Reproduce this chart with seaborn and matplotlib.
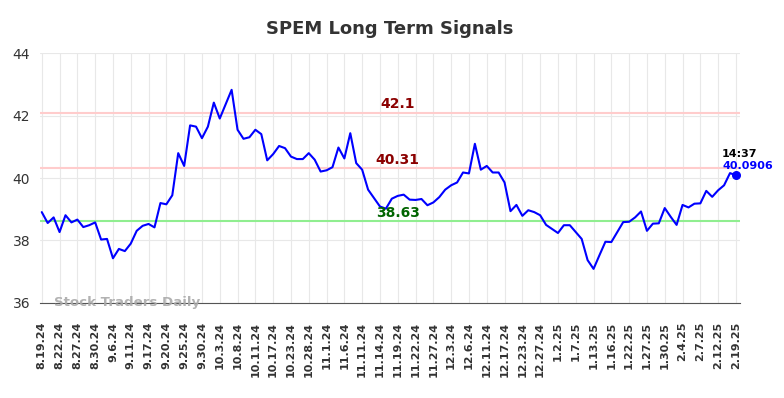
import pandas as pd
import numpy as np
import matplotlib
matplotlib.use("Agg")
import matplotlib.pyplot as plt
import seaborn as sns

# Closing prices, one per plotted session
prices = [
    38.91, 38.56, 38.74, 38.27, 38.81, 38.58, 38.67, 38.43, 38.49, 38.58,
    38.03, 38.05, 37.43, 37.73, 37.66, 37.90, 38.31, 38.47, 38.53, 38.42,
    39.20, 39.16, 39.45, 40.80, 40.39, 41.69, 41.65, 41.28, 41.65, 42.42,
    41.91, 42.37, 42.83, 41.55, 41.26, 41.31, 41.55, 41.41, 40.57, 40.77,
    41.03, 40.96, 40.69, 40.61, 40.61, 40.80, 40.59, 40.21, 40.25, 40.35,
    40.98, 40.63, 41.44, 40.48, 40.27, 39.63, 39.36, 39.09, 39.02, 39.34,
    39.43, 39.47, 39.31, 39.30, 39.33, 39.13, 39.22, 39.39, 39.63, 39.77,
    39.86, 40.18, 40.15, 41.10, 40.27, 40.39, 40.18, 40.18, 39.86, 38.94,
    39.14, 38.79, 38.97, 38.91, 38.81, 38.50, 38.37, 38.24, 38.49, 38.49,
    38.27, 38.05, 37.37, 37.09, 37.53, 37.96, 37.95, 38.27, 38.59, 38.60,
    38.74, 38.93, 38.31, 38.54, 38.55, 39.04, 38.76, 38.50, 39.14, 39.06,
    39.18, 39.19, 39.59, 39.40, 39.61, 39.77, 40.16, 40.0906,
]

tick_labels = [
    "8.19.24", "8.22.24", "8.27.24", "8.30.24", "9.6.24", "9.11.24", "9.17.24",
    "9.20.24", "9.25.24", "9.30.24", "10.3.24", "10.8.24", "10.11.24", "10.17.24",
    "10.23.24", "10.28.24", "11.1.24", "11.6.24", "11.11.24", "11.14.24",
    "11.19.24", "11.22.24", "11.27.24", "12.3.24", "12.6.24", "12.11.24",
    "12.17.24", "12.23.24", "12.27.24", "1.2.25", "1.7.25", "1.13.25", "1.16.25",
    "1.22.25", "1.27.25", "1.30.25", "2.4.25", "2.7.25", "2.12.25", "2.19.25",
]

resistance_levels = [42.1, 40.31]
support_level = 38.63
last_time = "14:37"

df = pd.DataFrame({"idx": np.arange(len(prices)), "price": prices})
tick_pos = np.arange(0, len(prices), 3)

sns.set_style("whitegrid", {"grid.color": "#e8e8e8"})
fig, ax = plt.subplots(figsize=(7.84, 3.98), dpi=100)
fig.subplots_adjust(left=0.051, right=0.944, top=0.866, bottom=0.239)

for lvl in resistance_levels:
    ax.axhline(lvl, color="#ffcccc", lw=1.5, zorder=1)
ax.axhline(support_level, color="#90ee90", lw=1.5, zorder=1)

sns.lineplot(data=df, x="idx", y="price", color="blue", lw=1.5, ax=ax, zorder=3)

last_x = df["idx"].iloc[-1]
last_y = df["price"].iloc[-1]
ax.scatter([last_x], [last_y], color="blue", s=30, zorder=4)

# level labels sit just above their lines, mid-chart
mid = 60
for lvl in resistance_levels:
    ax.text(mid, lvl + 0.04, f"{lvl:g}", color="darkred", fontsize=10,
            fontweight="bold", ha="center", va="bottom")
ax.text(mid, support_level + 0.04, f"{support_level:g}", color="darkgreen",
        fontsize=10, fontweight="bold", ha="center", va="bottom")

ax.annotate(last_time, (last_x, last_y), xytext=(-10, 12), textcoords="offset points",
            fontsize=8, fontweight="bold", color="black", ha="left", va="bottom")
ax.annotate(f"{last_y:.4f}", (last_x, last_y), xytext=(-10, 3), textcoords="offset points",
            fontsize=8, fontweight="bold", color="blue", ha="left", va="bottom")

ax.text(2, 36.0, "Stock Traders Daily", color="#aaaaaa", fontsize=9.6,
        fontweight="bold", ha="left", va="center", alpha=0.9)

ax.set_xlim(-0.3, len(prices) - 0.3)
ax.set_ylim(36, 44)
ax.set_yticks([36, 38, 40, 42, 44])
ax.set_xticks(tick_pos)
ax.set_xticklabels(tick_labels, rotation=90, fontsize=8, fontweight="bold")
ax.tick_params(axis="y", labelsize=10, colors="#333333")
ax.tick_params(axis="x", colors="#333333", pad=10)
ax.set_xlabel("")
ax.set_ylabel("")
ax.set_title("SPEM Long Term Signals", fontsize=13, fontweight="bold", color="#333333", pad=14)

for side in ["left", "right", "top"]:
    ax.spines[side].set_visible(False)
ax.spines["bottom"].set_color("#555555")

fig.savefig("out.png", dpi=100)
